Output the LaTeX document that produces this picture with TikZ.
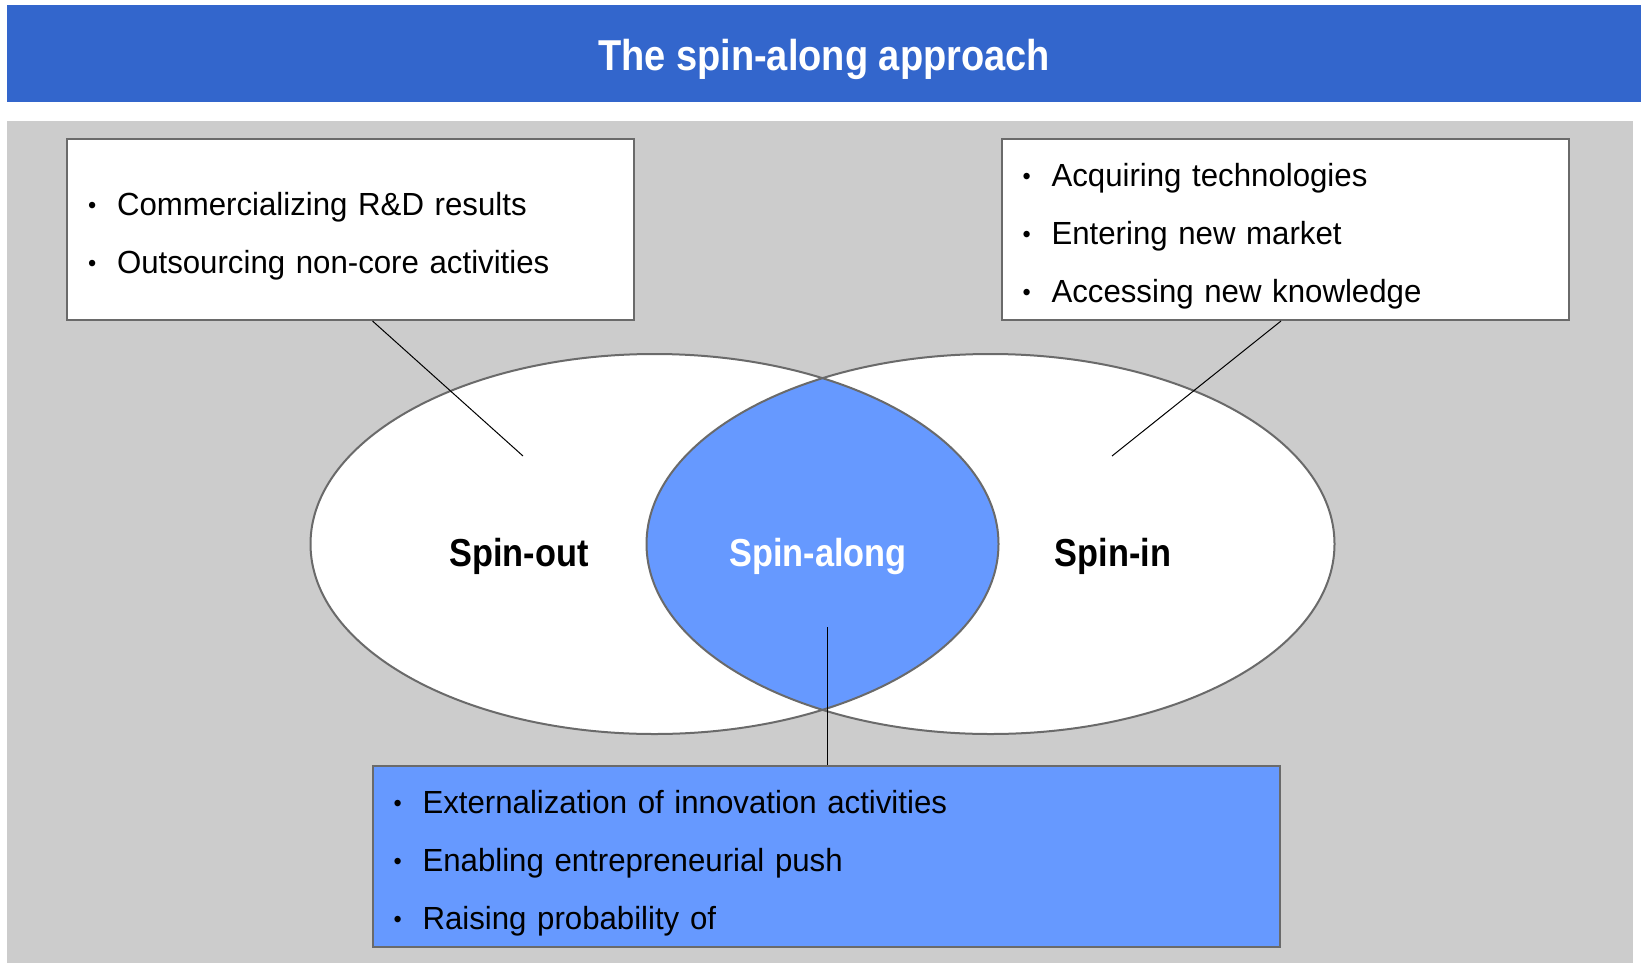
\documentclass[tikz,border=0pt]{standalone}
\usepackage{fontspec}
\setmainfont[FakeStretch=0.975]{Liberation Sans}
\newfontfamily\headfont[FakeStretch=0.88]{Liberation Sans}
\usetikzlibrary{positioning}
\definecolor{Banner}{HTML}{3366CC}
\definecolor{Lens}{HTML}{6699FF}
\definecolor{Panel}{HTML}{CCCCCC}
\definecolor{Rim}{HTML}{6A6A6A}
\newcommand{\dotitem}{\makebox[14.5pt][l]{\raisebox{.9pt}{\fontsize{12}{12}\selectfont\textbullet}}}
\tikzset{note/.style={draw=Rim,line width=1pt,fill=white,anchor=north west,minimum height=90.5pt,inner xsep=10.5pt,inner ysep=0pt,align=left,font=\fontsize{16}{28.9}\selectfont,execute at begin node=\rule{0pt}{18.3pt}},tag/.style={anchor=base,font=\headfont\bfseries\fontsize{19.5}{22}\selectfont},lead/.style={draw=black,line width=.5pt},ring/.style={draw=Rim,line width=1pt}}

\begin{document}
\begin{tikzpicture}[x=.5pt,y=-.5pt]
\useasboundingbox (0,0) rectangle (1641,963);
\fill[white] (0,0) rectangle (1641,963);
\fill[Banner] (7,5) rectangle (1641,102);
\fill[Panel] (7,121) rectangle (1633,963);
\node[anchor=base,text=white,font=\headfont\bfseries\fontsize{21.6}{26}\selectfont] (title) at (824,70.5) {The spin-along approach};
\coordinate (outc) at (654.5,544);\coordinate (inc) at (990.5,544);
\fill[white] (outc) ellipse [x radius=344,y radius=190] (inc) ellipse [x radius=344,y radius=190];
\begin{scope}\clip (outc) ellipse [x radius=344,y radius=190];\fill[Lens] (inc) ellipse [x radius=344,y radius=190];\end{scope}
\draw[ring] (outc) ellipse [x radius=344,y radius=190] (inc) ellipse [x radius=344,y radius=190];
\node[tag] (spinout) at (519,566) {Spin-out};
\node[tag,text=white] (spinalong) at (818,566) {Spin-along};
\node[tag] (spinin) at (1113,566) {Spin-in};
\node[note,text width=262.5pt] (outbox) at (66,138) {\dotitem Commercializing R\&D results\\\dotitem Outsourcing non-core activities};
\node[note,text width=262.5pt] (inbox) at (1000.5,138) {\dotitem Acquiring technologies\\\dotitem Entering new market\\\dotitem Accessing new knowledge};
\node[note,fill=Lens,text width=432.75pt] (alongbox) at (371.5,765) {\dotitem Externalization of innovation activities\\\dotitem Enabling entrepreneurial push\\\dotitem Raising probability of};
\coordinate (outtip) at (523,456);\coordinate (intip) at (1112,456);\coordinate (alongtip) at (827,627);
\draw[lead] ([xshift=11pt]outbox.south) -- (outtip);
\draw[lead] ([xshift=-2pt]inbox.south) -- (intip);
\draw[lead] (alongtip) -- (alongtip |- alongbox.north);
\end{tikzpicture}
\end{document}
